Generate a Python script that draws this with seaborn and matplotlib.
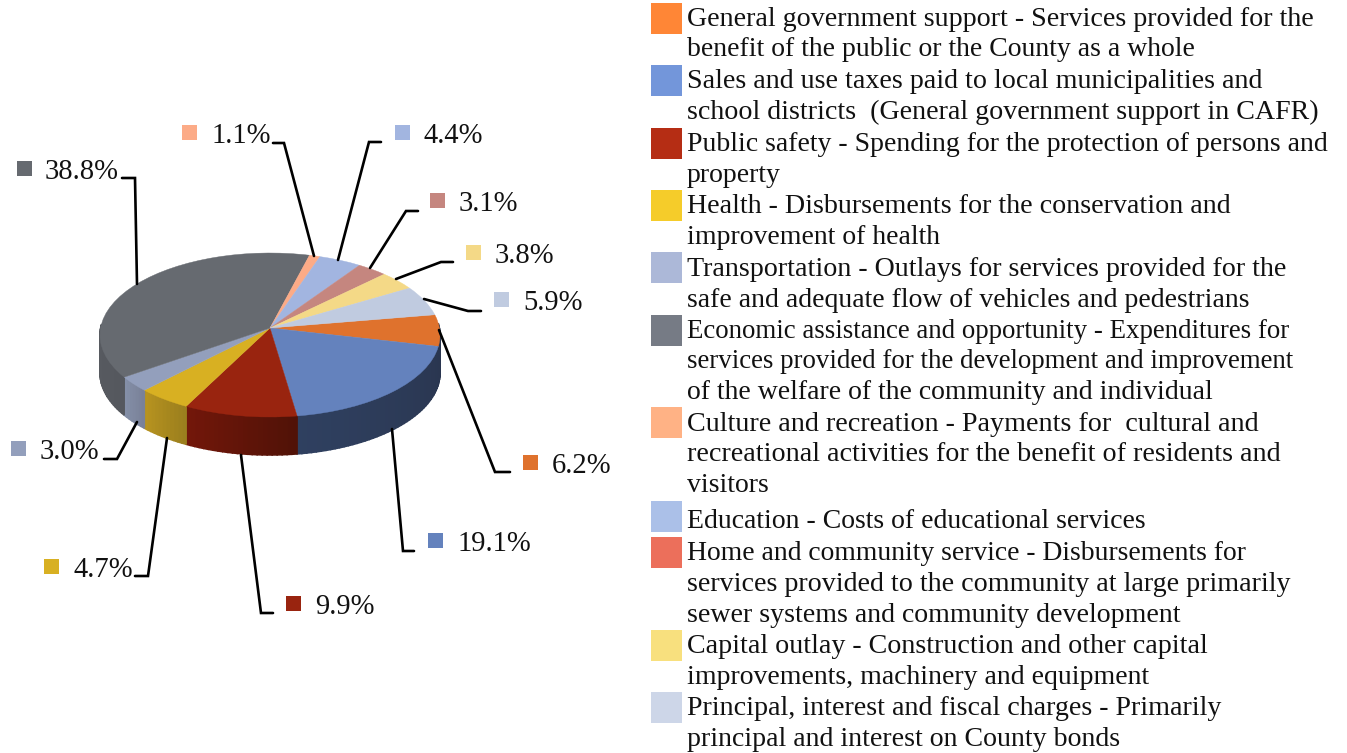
import numpy as np
import matplotlib
matplotlib.use("Agg")
import matplotlib.pyplot as plt
from matplotlib.transforms import Transform
import seaborn as sns

# ---- data ----
shares = [6.2, 19.1, 9.9, 4.7, 3.0, 38.8, 1.1, 4.4, 3.1, 3.8, 5.9]
top_colors = ["#DF722D", "#6482BD", "#99240F", "#D8B022", "#939FBC", "#666A70",
              "#FCAB87", "#A2B5E0", "#C5867F", "#F4D987", "#C0CBE0"]
wall_start = ["#2A3650", "#2A3650", "#501207", "#9A7E1E", "#788097", "#55585E",
              "#B07858", "#7080A0", "#8A5E58", "#B09A60", "#8890A0"]
wall_end = ["#2A3650", "#2F4060", "#73170A", "#B8941F", "#8590A8", "#5E6167",
            "#B07858", "#7080A0", "#8A5E58", "#B09A60", "#8890A0"]
legend_colors = ["#FF8636", "#7396DA", "#B52D14", "#F5CC2A", "#ACB8D8", "#767B85",
                 "#FFB285", "#ABC0E8", "#EC6F5B", "#F8E07E", "#CDD6E8"]
legend_lines = [
    ["General government support - Services provided for the",
     "benefit of the public or the County as a whole"],
    ["Sales and use taxes paid to local municipalities and",
     "school districts  (General government support in CAFR)"],
    ["Public safety - Spending for the protection of persons and",
     "property"],
    ["Health - Disbursements for the conservation and",
     "improvement of health"],
    ["Transportation - Outlays for services provided for the",
     "safe and adequate flow of vehicles and pedestrians"],
    ["Economic assistance and opportunity - Expenditures for",
     "services provided for the development and improvement",
     "of the welfare of the community and individual"],
    ["Culture and recreation - Payments for  cultural and",
     "recreational activities for the benefit of residents and",
     "visitors"],
    ["Education - Costs of educational services"],
    ["Home and community service - Disbursements for",
     "services provided to the community at large primarily",
     "sewer systems and community development"],
    ["Capital outlay - Construction and other capital",
     "improvements, machinery and equipment"],
    ["Principal, interest and fiscal charges - Primarily",
     "principal and interest on County bonds"],
]

# ---- layout (pixels) ----
W, H = 1347, 753
CX, CY, AX_X, AX_Y, KP, DEPTH = 270, 328, 169.4, 81.4, 0.0854, 38
START = 9.5
legend_swatch_y = [3, 65, 128, 190, 252, 315, 407, 501, 537, 630, 692]
legend_baselines = [26, 56, 88, 119, 151, 182, 213, 244, 276, 307, 338, 368,
                    399, 431, 461, 492, 528, 560, 591, 622, 653, 684, 715, 746]
legend_sizes = [20.2, 20.0, 20.2, 20.2, 20.0, 20.0, 20.2, 20.0, 20.2, 20.0, 19.4, 19.4,
                20.0, 20.25, 20.25, 20.0, 20.0, 19.9, 20.2, 20.1, 20.2, 20.0, 20.2, 20.1]
label_swatch = [(523, 455), (428, 533), (286, 596), (44, 559), (11, 441), (17, 161),
                (182, 125), (395, 125), (430, 193), (466, 245), (494, 292)]
label_text_x = [552, 458, 315, 73, 40, 45, 211, 424, 459, 495, 523]
leaders = [
    [(510, 472), (495, 472), (439, 330)],
    [(414, 551), (403, 551), (392, 429)],
    [(273, 613), (261, 613), (241, 455)],
    [(135, 576), (148, 576), (167, 438)],
    [(104, 459), (117, 459), (137, 422)],
    [(122, 178), (135, 178), (137, 284)],
    [(273, 143), (284, 143), (314, 256)],
    [(381, 142), (369, 142), (338, 260)],
    [(418, 211), (406, 211), (370, 268)],
    [(453, 262), (441, 262), (396, 279)],
    [(481, 311), (468, 311), (424, 299)],
]


def project(u, v):
    d = 1 + KP * np.asarray(v)
    return CX + AX_X * np.asarray(u) / d, CY - AX_Y * np.asarray(v) / d


class Tilt(Transform):
    input_dims = output_dims = 2
    is_separable = False

    def transform_non_affine(self, xy):
        xy = np.asarray(xy)
        x, y = project(xy[:, 0], xy[:, 1])
        return np.column_stack([x, y])


sns.set_theme(style="white")
plt.rcParams["font.family"] = ["Liberation Serif", "DejaVu Serif"]
palette = sns.color_palette(top_colors)

fig = plt.figure(figsize=(W / 100, H / 100), dpi=100, facecolor="white")
ax = fig.add_axes([0, 0, 1, 1])

wedges, _ = ax.pie(shares, colors=palette, startangle=START, counterclock=False,
                   radius=1, wedgeprops=dict(linewidth=0))
ax.set_aspect("auto")
ax.set_xlim(0, W)
ax.set_ylim(H, 0)
ax.axis("off")
tilt = Tilt() + ax.transData
for w in wedges:
    w.set_transform(tilt)
    w.set_zorder(3)
    w.set_edgecolor(w.get_facecolor())
    w.set_linewidth(0.3)

# side wall, slice by slice, from the shares
ang = START
for share, c0, c1 in zip(shares, wall_start, wall_end):
    a1 = ang
    a0 = ang - share * 3.6
    ang = a0
    n = max(2, int((a1 - a0) / 1.5))
    edges = np.linspace(a1, a0, n + 1)
    rgb0, rgb1 = np.array(matplotlib.colors.to_rgb(c0)), np.array(matplotlib.colors.to_rgb(c1))
    for i in range(n):
        th = np.radians(edges[i:i + 2])
        if np.sin(th).mean() > 0.05:
            continue
        x, y = project(np.cos(th), np.sin(th))
        col = rgb0 + (rgb1 - rgb0) * (i + 0.5) / n
        ax.fill([x[0], x[1], x[1], x[0]],
                [y[0], y[1], y[1] + DEPTH, y[0] + DEPTH],
                color=col, lw=1.1, zorder=2)

# leader lines, callout swatches and percentages
for share, col, pts, (sx, sy), tx in zip(shares, top_colors, leaders, label_swatch, label_text_x):
    px, py = zip(*pts)
    ax.plot(px, py, color="black", lw=1.9, solid_joinstyle="miter", zorder=4)
    ax.fill([sx, sx + 15, sx + 15, sx], [sy, sy, sy + 15, sy + 15], color=col, lw=0, zorder=4)
    ax.text(tx, sy + 18, f"{share:.1f}%", fontsize=20.6, color="#111111", va="baseline", ha="left", zorder=5)

# legend
k = 0
for col, sy, lines in zip(legend_colors, legend_swatch_y, legend_lines):
    ax.fill([651, 682, 682, 651], [sy, sy, sy + 31, sy + 31], color=col, lw=0, zorder=4)
    for line in lines:
        ax.text(687, legend_baselines[k], line, fontsize=legend_sizes[k], color="#111111",
                va="baseline", ha="left", zorder=5)
        k += 1

fig.savefig("out.png", dpi=100, facecolor="white")
